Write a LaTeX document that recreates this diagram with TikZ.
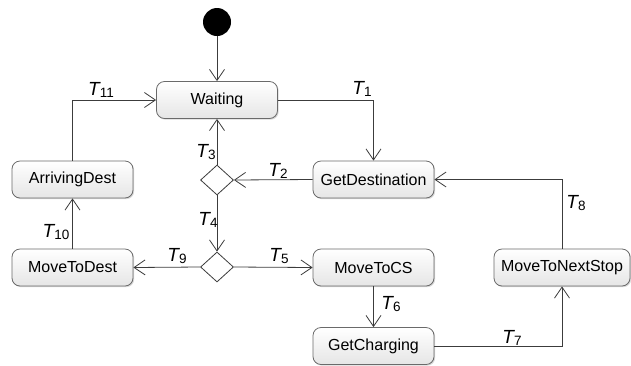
\documentclass[tikz,border=0pt]{standalone}
\usepackage{fontspec}
\setmainfont{Liberation Sans}
\usetikzlibrary{arrows.meta,shapes.geometric,shadows}
\definecolor{lineC}{HTML}{3C3C3C}
\definecolor{boxB}{HTML}{6A6A6A}
\newcommand{\Tl}[1]{{\fontsize{19}{19}\selectfont\itshape T}\raisebox{-0.35ex}{\fontsize{13.5}{13.5}\selectfont #1}}
\tikzset{
  state/.style={draw=boxB, line width=0.8pt, rounded corners=8pt, minimum width=121pt, minimum height=37pt,
    inner sep=0pt, top color=white, bottom color=black!10, font=\fontsize{16}{16}\selectfont,
    drop shadow={shadow xshift=1.2pt, shadow yshift=-1.2pt, opacity=0.25, fill=black!60}},
  choice/.style={draw=lineC, line width=0.8pt, diamond, minimum width=33pt, minimum height=30pt, inner sep=0pt, fill=white, aspect=1.1},
  initial/.style={circle, fill=black, minimum size=28pt, inner sep=0pt},
  tr/.style={draw=lineC, line width=0.8pt, -{Straight Barb[length=11pt,width=15pt,line width=0.8pt]}},
  lbl/.style={inner sep=0pt}
}
\begin{document}
\begin{tikzpicture}[x=1pt,y=-1pt]
\useasboundingbox (0,0) rectangle (631,365);
\node[initial] (init) at (217,22) {};
\node[state] (wait) at (217,100) {Waiting};
\node[state] (getdest) at (373.5,179.5) {GetDestination};
\node[state] (arr) at (72.5,179.5) {ArrivingDest};
\node[state] (mdest) at (72.5,267.5) {MoveToDest};
\node[state] (mcs) at (373.5,267.5) {MoveToCS};
\node[state] (gchg) at (373.5,346) {GetCharging};
\node[state, minimum width=136pt] (next) at (562,267.5) {MoveToNextStop};
\node[choice] (d1) at (217,180) {};
\node[choice] (d2) at (217,267) {};

\draw[tr] (init) -- (wait);
\draw[tr] (wait.east) -| (getdest.north);
\draw[tr] (arr.north) |- (wait.west);
\draw[tr] (getdest.west) -- (d1.east);
\draw[tr] (d1.north) -- (wait.south);
\draw[tr] (d1.south) -- (d2.north);
\draw[tr] (d2.east) -- (mcs.west);
\draw[tr] (d2.west) -- (mdest.east);
\draw[tr] (mdest.north) -- (arr.south);
\draw[tr] (mcs.south) -- (gchg.north);
\draw[tr] (gchg.east) -| (next.south);
\draw[tr] (next.north) |- (getdest.east);

\node[lbl] (l1) at (362,89) {\Tl{1}};
\node[lbl] (l2) at (278,171) {\Tl{2}};
\node[lbl] (l3) at (206,152) {\Tl{3}};
\node[lbl] (l4) at (208,220) {\Tl{4}};
\node[lbl] (l5) at (279,256) {\Tl{5}};
\node[lbl] (l6) at (391,304) {\Tl{6}};
\node[lbl] (l7) at (512,338) {\Tl{7}};
\node[lbl] (l8) at (576,203) {\Tl{8}};
\node[lbl] (l9) at (177,256) {\Tl{9}};
\node[lbl] (l10) at (56,232) {\Tl{10}};
\node[lbl] (l11) at (101,90) {\Tl{11}};
\end{tikzpicture}
\end{document}
